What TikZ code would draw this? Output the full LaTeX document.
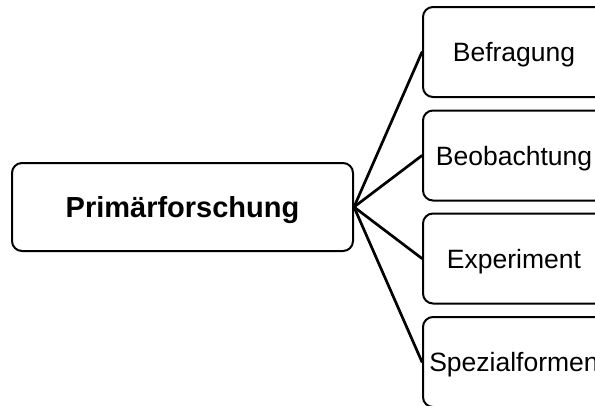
\documentclass[tikz,border=0pt]{standalone}
\usepackage{fontspec}
\setmainfont{Liberation Sans}
\begin{document}
\begin{tikzpicture}[x=1pt,y=-1pt,
  box/.style={draw=black,line width=2pt,rounded corners=10pt,fill=white,
    inner sep=0pt,align=center,text depth=0pt},
  mainbox/.style={box,minimum width=341pt,minimum height=88pt,
    font=\fontsize{29}{33}\selectfont\bfseries},
  subbox/.style={box,minimum width=182pt,minimum height=90pt,
    font=\fontsize{26.5}{30}\selectfont},
  link/.style={line width=2.7pt,line cap=round}]
  \useasboundingbox (0,0) rectangle (595,405);
  \clip (0,0) rectangle (595,405);
  \fill[white] (0,0) rectangle (595,405);

  % root and its four branches
  \node[mainbox] (root) at (182.5,207) {Primärforschung};
  \node[subbox] (b1) at (514,52)  {Befragung};
  \node[subbox] (b2) at (514,155.5) {Beobachtung};
  \node[subbox] (b3) at (514,258.5) {Experiment};
  \node[subbox] (b4) at (514,362) {Spezialformen};

  % connectors
  \foreach \n in {b1,b2,b3,b4}
    \draw[link] (root.east) -- (\n.west);
\end{tikzpicture}
\end{document}
